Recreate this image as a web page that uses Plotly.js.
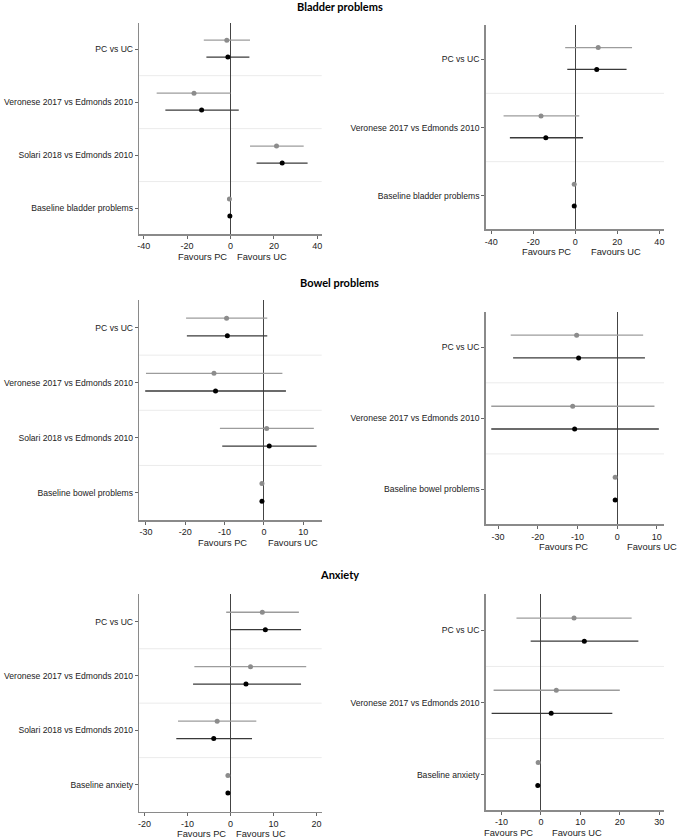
<!DOCTYPE html>
<html>
<head>
<meta charset="utf-8">
<script src="https://cdn.plot.ly/plotly-3.0.1.min.js"></script>
<style>html,body{margin:0;padding:0;background:#fff;}#chart{width:678px;height:839px;}</style>
</head>
<body>
<div id="chart"></div>
<script>
// ---------- DATA ----------
const sectionTitles = ["Bladder problems", "Bowel problems", "Anxiety"];

const p1Labels = ["PC vs UC", "Veronese 2017 vs Edmonds 2010", "Solari 2018 vs Edmonds 2010", "Baseline bladder problems"];
const p1GrayEst = [-1.7, -16.8, 21.2, -0.5];
const p1GrayLo  = [-12.3, -34.0, 9.0, -0.5];
const p1GrayHi  = [9.0, 0.0, 33.7, -0.5];
const p1BlackEst = [-1.2, -13.3, 23.8, -0.3];
const p1BlackLo  = [-11.1, -30.0, 12.0, -0.3];
const p1BlackHi  = [8.7, 3.8, 35.5, -0.3];
const p1Ticks = [-40, -20, 0, 20, 40];

const p2Labels = ["PC vs UC", "Veronese 2017 vs Edmonds 2010", "Baseline bladder problems"];
const p2GrayEst = [10.9, -16.3, -0.5];
const p2GrayLo  = [-4.8, -34.1, -0.5];
const p2GrayHi  = [27.0, 1.9, -0.5];
const p2BlackEst = [10.2, -14.0, -0.5];
const p2BlackLo  = [-3.8, -31.1, -0.5];
const p2BlackHi  = [24.4, 3.7, -0.5];
const p2Ticks = [-40, -20, 0, 20, 40];

const p3Labels = ["PC vs UC", "Veronese 2017 vs Edmonds 2010", "Solari 2018 vs Edmonds 2010", "Baseline bowel problems"];
const p3GrayEst = [-9.5, -12.7, 0.7, -0.5];
const p3GrayLo  = [-19.8, -30.0, -11.2, -0.5];
const p3GrayHi  = [0.85, 4.7, 12.7, -0.5];
const p3BlackEst = [-9.3, -12.3, 1.35, -0.5];
const p3BlackLo  = [-19.6, -30.2, -10.6, -0.5];
const p3BlackHi  = [0.85, 5.6, 13.4, -0.5];
const p3Ticks = [-30, -20, -10, 0, 10];

const p4Labels = ["PC vs UC", "Veronese 2017 vs Edmonds 2010", "Baseline bowel problems"];
const p4GrayEst = [-10.2, -11.2, -0.5];
const p4GrayLo  = [-26.8, -31.7, -0.5];
const p4GrayHi  = [6.55, 9.4, -0.5];
const p4BlackEst = [-9.7, -10.7, -0.5];
const p4BlackLo  = [-26.2, -31.7, -0.5];
const p4BlackHi  = [7.0, 10.5, -0.5];
const p4Ticks = [-30, -20, -10, 0, 10];

const p5Labels = ["PC vs UC", "Veronese 2017 vs Edmonds 2010", "Solari 2018 vs Edmonds 2010", "Baseline anxiety"];
const p5GrayEst = [7.4, 4.65, -3.1, -0.6];
const p5GrayLo  = [-1.0, -8.4, -12.2, -0.6];
const p5GrayHi  = [15.9, 17.6, 6.0, -0.6];
const p5BlackEst = [8.1, 3.6, -3.9, -0.6];
const p5BlackLo  = [0.0, -8.7, -12.6, -0.6];
const p5BlackHi  = [16.4, 16.4, 5.0, -0.6];
const p5Ticks = [-20, -10, 0, 10, 20];

const p6Labels = ["PC vs UC", "Veronese 2017 vs Edmonds 2010", "Baseline anxiety"];
const p6GrayEst = [8.4, 3.9, -0.7];
const p6GrayLo  = [-6.2, -12.0, -0.7];
const p6GrayHi  = [23.0, 20.0, -0.7];
const p6BlackEst = [11.0, 2.6, -0.8];
const p6BlackLo  = [-2.6, -12.5, -0.8];
const p6BlackHi  = [24.7, 18.1, -0.8];
const p6Ticks = [-10, 0, 10, 20, 30];

const favoursLabels = ["Favours PC", "Favours UC"];

// ---------- LAYOUT CONFIG (positions / styles) ----------
const W = 678, H = 839;
const panels = [
  {labels:p1Labels, g:[p1GrayEst,p1GrayLo,p1GrayHi], b:[p1BlackEst,p1BlackLo,p1BlackHi], ticks:p1Ticks,
   px:[139.3,321.7], py:[22.7,234], xr:[-42,42], fav:[-13,14.6]},
  {labels:p2Labels, g:[p2GrayEst,p2GrayLo,p2GrayHi], b:[p2BlackEst,p2BlackLo,p2BlackHi], ticks:p2Ticks,
   px:[485.7,664], py:[25,229.3], xr:[-42.6,42.2], fav:[-13.6,19.4]},
  {labels:p3Labels, g:[p3GrayEst,p3GrayLo,p3GrayHi], b:[p3BlackEst,p3BlackLo,p3BlackHi], ticks:p3Ticks,
   px:[139.3,321.7], py:[300,520], xr:[-31.7,14.7], fav:[-10.5,7.5]},
  {labels:p4Labels, g:[p4GrayEst,p4GrayLo,p4GrayHi], b:[p4BlackEst,p4BlackLo,p4BlackHi], ticks:p4Ticks,
   px:[485.7,664], py:[311.7,524.3], xr:[-33.1,11.8], fav:[-13.4,8.7]},
  {labels:p5Labels, g:[p5GrayEst,p5GrayLo,p5GrayHi], b:[p5BlackEst,p5BlackLo,p5BlackHi], ticks:p5Ticks,
   px:[139.3,321.7], py:[594.3,811.5], xr:[-21.2,21.2], fav:[-6.7,7.2]},
  {labels:p6Labels, g:[p6GrayEst,p6GrayLo,p6GrayHi], b:[p6BlackEst,p6BlackLo,p6BlackHi], ticks:p6Ticks,
   px:[485.7,664], py:[594.3,810], xr:[-14,31.2], fav:[-8.3,9.2]}
];
const titleY = [6.5, 282.7, 574.5];

const FONT = "Liberation Sans";
const traces = [];
const layout = {
  width: W, height: H,
  margin: {l:0, r:0, t:0, b:0},
  paper_bgcolor: "#fff", plot_bgcolor: "#fff",
  showlegend: false,
  font: {family: FONT, size: 9, color: "#222"},
  shapes: [], annotations: []
};

panels.forEach((p, k) => {
  const n = k + 1;
  const xa = n === 1 ? "x" : "x" + n;
  const ya = n === 1 ? "y" : "y" + n;
  const idx = p.labels.map((_, i) => i);
  const series = [
    {d:p.g, off:-0.17, mc:"#8c8c8c", lc:"#9c9c9c"},
    {d:p.b, off:0.15, mc:"#000000", lc:"#3a3a3a"}
  ];
  series.forEach(s => {
    const [est, lo, hi] = s.d;
    traces.push({
      type: "scatter", mode: "markers", xaxis: xa, yaxis: ya,
      x: est, y: idx.map(i => i + s.off),
      marker: {color: s.mc, size: 5},
      error_x: {type: "data", symmetric: false,
        array: est.map((v, i) => hi[i] - v),
        arrayminus: est.map((v, i) => v - lo[i]),
        color: s.lc, thickness: 1.3, width: 0},
      hoverinfo: "skip"
    });
  });
  const nc = p.labels.length;
  layout["xaxis" + (n === 1 ? "" : n)] = {
    domain: [p.px[0] / W, p.px[1] / W], anchor: ya,
    range: p.xr, tickvals: p.ticks, ticktext: p.ticks.map(String),
    ticks: "outside", ticklen: 3, tickcolor: "#666", tickwidth: 1,
    showline: true, linecolor: "#8a8a8a", linewidth: 1.5,
    showgrid: false, zeroline: true, zerolinecolor: "#444", zerolinewidth: 1,
    tickfont: {family: FONT, size: 9, color: "#222"}, fixedrange: true
  };
  layout["yaxis" + (n === 1 ? "" : n)] = {
    domain: [1 - p.py[1] / H, 1 - p.py[0] / H], anchor: xa,
    range: [nc - 0.51, -0.5], tickvals: idx, ticktext: p.labels,
    ticks: "outside", ticklen: 3, tickcolor: "#666", tickwidth: 1,
    showline: true, linecolor: "#8a8a8a", linewidth: 1.5,
    showgrid: false, zeroline: false,
    tickfont: {family: FONT, size: 8.6, color: "#222"}, fixedrange: true
  };
  for (let i = 0; i < nc - 1; i++) {
    layout.shapes.push({type: "line", layer: "below",
      xref: xa + " domain", x0: 0, x1: 1, yref: ya, y0: i + 0.5, y1: i + 0.5,
      line: {color: "#ebebeb", width: 1}});
  }
  favoursLabels.forEach((t, j) => {
    layout.annotations.push({text: t, xref: xa, yref: ya + " domain",
      x: p.fav[j], y: 0, yanchor: "top", xanchor: "center", yshift: -15.5,
      showarrow: false, font: {family: FONT, size: 9.3, color: "#222"}});
  });
});

sectionTitles.forEach((t, i) => {
  layout.annotations.push({text: "<b>" + t + "</b>", xref: "paper", yref: "paper",
    x: 339.5 / W, y: 1 - titleY[i] / H, xanchor: "center", yanchor: "middle",
    showarrow: false, font: {family: "Lato, Open Sans, sans-serif", size: 11, color: "#000"}});
});

Plotly.newPlot("chart", traces, layout, {staticPlot: true, displayModeBar: false});
</script>
</body>
</html>
